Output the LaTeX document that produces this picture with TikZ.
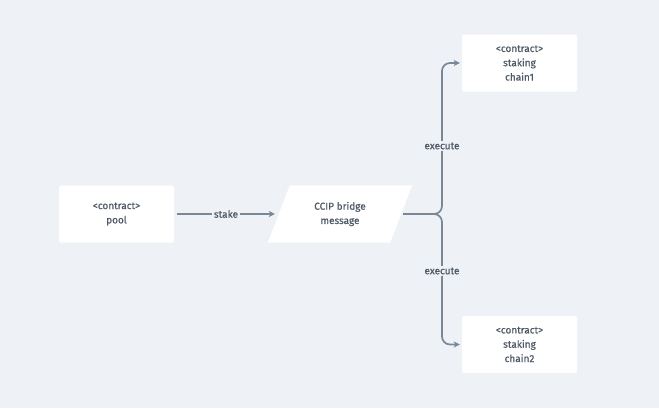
\documentclass[tikz,border=0pt]{standalone}
\usepackage{fontspec}
\setmainfont{Fira Sans}[UprightFeatures={FakeBold=0.6}]
\usetikzlibrary{arrows.meta,backgrounds}
\definecolor{bg}{HTML}{EEF2F6}
\definecolor{edge}{HTML}{7A8797}
\definecolor{txt}{HTML}{4F5966}
\tikzset{
  box/.style={fill=white, rounded corners=1.5pt, minimum width=115pt, minimum height=57pt, align=center, text=txt, font=\fontsize{10}{14.3}\selectfont, inner sep=0pt},
  conn/.style={draw=edge, line width=1.7pt, -{Stealth[length=6pt,width=6pt,inset=1.5pt]}},
  lbl/.style={fill=bg, text=txt, font=\fontsize{10}{11}\selectfont, inner sep=1.5pt}
}
\begin{document}
\begin{tikzpicture}[x=1pt,y=-1pt]
\useasboundingbox (0,0) rectangle (659,408);
\node[box] (pool) at (116.5,214) {<contract>\\pool};
\node[box, fill=none, minimum width=122pt] (msg) at (340,214) {CCIP bridge\\message};
\begin{scope}[on background layer]
\fill[bg] (0,0) rectangle (659,408);
\fill[white] ([xshift=11pt]msg.north west) -- ([xshift=11pt]msg.north east) -- ([xshift=-11pt]msg.south east) -- ([xshift=-11pt]msg.south west) -- cycle;
\end{scope}
\node[box] (c1) at (519.5,63) {<contract>\\staking\\chain1};
\node[box] (c2) at (519.5,344.5) {<contract>\\staking\\chain2};
\coordinate (j) at (442,214);
\draw[conn] ([xshift=3pt]pool.east) -- node[lbl] {stake} ([xshift=-4pt]msg.west);
\draw[conn, rounded corners=8pt] ([xshift=2pt]msg.east) -- (j) -- (j |- c1.west) -- ([xshift=-2pt]c1.west);
\draw[conn, rounded corners=8pt] ([xshift=2pt]msg.east) -- (j) -- (j |- c2.west) -- ([xshift=-2pt]c2.west);
\node[lbl] (e1) at (442,146) {execute};
\node[lbl] (e2) at (442,271) {execute};
\end{tikzpicture}
\end{document}
